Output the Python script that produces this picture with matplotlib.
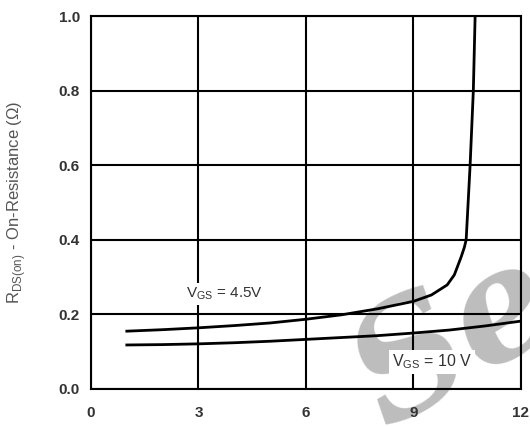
import numpy as np
import matplotlib.pyplot as plt

plt.rcParams['font.family'] = ['Liberation Sans', 'DejaVu Sans']
plt.rcParams['mathtext.fontset'] = 'custom'
plt.rcParams['mathtext.rm'] = 'Liberation Sans'

# V_GS = 4.5 V curve
vds_45 = [1, 2, 3, 4, 5, 6, 7, 8, 9, 9.5, 9.94, 10.14, 10.33, 10.42, 10.47, 10.58, 10.67, 10.72]
rds_45 = [0.155, 0.159, 0.164, 0.170, 0.177, 0.187, 0.199, 0.215, 0.235, 0.252, 0.279, 0.306, 0.354, 0.38, 0.40, 0.60, 0.80, 1.0]

# V_GS = 10 V curve
vds_10 = [1, 2, 3, 4, 5, 6, 7, 8, 9, 10, 11, 12]
rds_10 = [0.118, 0.119, 0.121, 0.124, 0.128, 0.133, 0.138, 0.143, 0.150, 0.158, 0.169, 0.182]

x_ticks = [0, 3, 6, 9, 12]
y_ticks = [0.0, 0.2, 0.4, 0.6, 0.8, 1.0]

fig = plt.figure(figsize=(5.3, 4.26), dpi=100)
ax = fig.add_axes([0.1717, 0.0869, 0.8113, 0.8755])
ax.patch.set_alpha(0)
ax.set_zorder(2)

# watermark behind everything
fig.text(0.86, 0.2, 'Se', fontsize=110, color='#bdbdbd', family='DejaVu Serif',
         style='italic', fontweight='bold', rotation=30, ha='center', va='center', zorder=0)

ax.set_xlim(0, 12)
ax.set_ylim(0, 1.0)
ax.set_xticks(x_ticks)
ax.set_yticks(y_ticks)
ax.set_xticklabels([str(t) for t in x_ticks])
ax.set_yticklabels(['%.1f' % t for t in y_ticks])
ax.tick_params(length=0, labelsize=11, labelcolor='#333333')
ax.tick_params(axis='x', pad=12)
ax.tick_params(axis='y', pad=8)
for lbl in ax.get_xticklabels() + ax.get_yticklabels():
    lbl.set_fontweight('bold')

ax.grid(True, color='black', linewidth=1.5)
for s in ax.spines.values():
    s.set_linewidth(1.5)

ax.plot(vds_45, rds_45, color='black', linewidth=2, zorder=3)
ax.plot(vds_10, rds_10, color='black', linewidth=2, zorder=3)

ax.text(2.65, 0.245, r'V$_{\mathregular{GS}}$ = 4.5V', fontsize=11, color='#333333',
        bbox=dict(facecolor='white', edgecolor='none', pad=2), zorder=4)
ax.text(8.4, 0.06, r'V$_{\mathregular{GS}}$ = 10 V', fontsize=11.5, color='#333333',
        bbox=dict(facecolor='white', edgecolor='none', pad=2), zorder=4)

ax.set_ylabel(r'R$_{\mathregular{DS(on)}}$ - On-Resistance ($\Omega$)', fontsize=12,
              color='#555555', labelpad=22)

fig.savefig('out.png', dpi=100)
